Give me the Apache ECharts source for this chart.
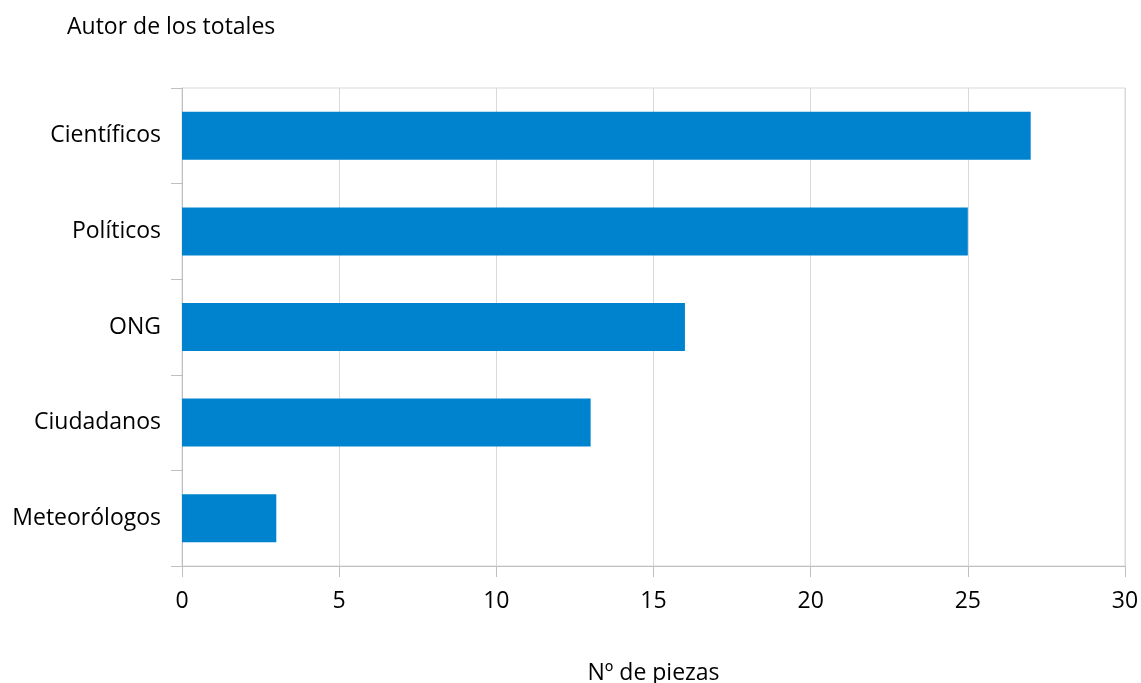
<!DOCTYPE html>
<html><head><meta charset="utf-8">
<script src="https://cdn.jsdelivr.net/npm/echarts@6/dist/echarts.min.js"></script>
<style>html,body{margin:0;padding:0;background:#fff}#c{width:1141px;height:683px}</style>
</head><body><div id="c"></div>
<script>
const categories = ["Meteorólogos", "Ciudadanos", "ONG", "Políticos", "Científicos"];
const values = [3, 13, 16, 25, 27];
const xTicks = [0, 5, 10, 15, 20, 25, 30];
const titleText = "Autor de los totales";
const xName = "Nº de piezas";

const font = "'Open Sans', 'Noto Sans', sans-serif";
const chart = echarts.init(document.getElementById('c'), null, {renderer: 'canvas'});
chart.setOption({
  animation: false,
  backgroundColor: '#fff',
  title: {text: titleText, left: 62, top: 11, textStyle: {fontFamily: font, fontSize: 23, fontWeight: 'normal', color: '#000'}},
  grid: {left: 182, right: 16, top: 88, bottom: 117, containLabel: false, outerBoundsMode: 'none', show: true, borderColor: '#d9d9d9', borderWidth: 1},
  xAxis: {
    type: 'value', min: xTicks[0], max: xTicks[xTicks.length - 1], interval: 5,
    name: xName, nameLocation: 'middle', nameGap: 96,
    nameTextStyle: {fontFamily: font, fontSize: 23, color: '#000'},
    axisLine: {show: true, lineStyle: {color: '#bfbfbf'}},
    axisTick: {show: true, length: 11, lineStyle: {color: '#bfbfbf'}},
    axisLabel: {fontFamily: font, fontSize: 23, color: '#000', margin: 24},
    splitLine: {show: true, lineStyle: {color: '#d9d9d9'}}
  },
  yAxis: {
    type: 'category', data: categories,
    axisLine: {show: true, lineStyle: {color: '#bfbfbf'}},
    axisTick: {show: true, length: 11, lineStyle: {color: '#bfbfbf'}},
    axisLabel: {fontFamily: font, fontSize: 23, color: '#000', margin: 21},
    splitLine: {show: false}
  },
  series: [{type: 'bar', data: values, barWidth: 48, itemStyle: {color: '#0083CF'}}]
});
</script></body></html>
